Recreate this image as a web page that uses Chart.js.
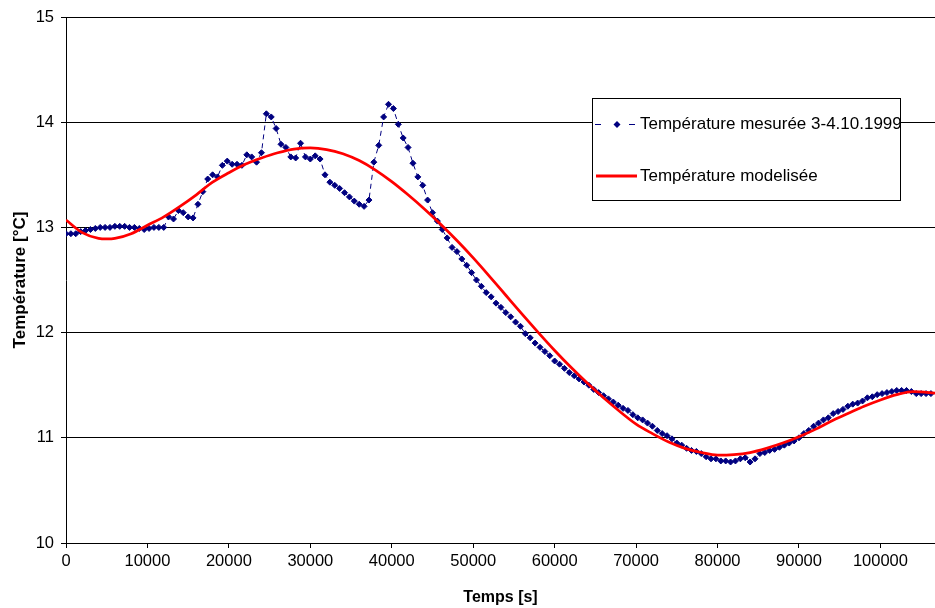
<!DOCTYPE html>
<html lang="fr">
<head>
<meta charset="UTF-8">
<title>Température mesurée et modelisée</title>
<script src="https://cdn.jsdelivr.net/npm/chart.js@4.4.0/dist/chart.umd.min.js"></script>
<style>
    body { margin: 0; background: #fff; }
    #wrap { width: 935px; height: 608px; }
</style>
</head>
<body>
<div id="wrap"><canvas id="chart" width="935" height="608"></canvas></div>
<script>
// measured series, one reading every 10 minutes
const measuredTimes = [
    0, 600, 1200, 1800, 2400, 3000, 3600, 4200, 4800, 5400,
    6000, 6600, 7200, 7800, 8400, 9000, 9600, 10200, 10800, 11400,
    12000, 12600, 13200, 13800, 14400, 15000, 15600, 16200, 16800, 17400,
    18000, 18600, 19200, 19800, 20400, 21000, 21600, 22200, 22800, 23400,
    24000, 24600, 25200, 25800, 26400, 27000, 27600, 28200, 28800, 29400,
    30000, 30600, 31200, 31800, 32400, 33000, 33600, 34200, 34800, 35400,
    36000, 36600, 37200, 37800, 38400, 39000, 39600, 40200, 40800, 41400,
    42000, 42600, 43200, 43800, 44400, 45000, 45600, 46200, 46800, 47400,
    48000, 48600, 49200, 49800, 50400, 51000, 51600, 52200, 52800, 53400,
    54000, 54600, 55200, 55800, 56400, 57000, 57600, 58200, 58800, 59400,
    60000, 60600, 61200, 61800, 62400, 63000, 63600, 64200, 64800, 65400,
    66000, 66600, 67200, 67800, 68400, 69000, 69600, 70200, 70800, 71400,
    72000, 72600, 73200, 73800, 74400, 75000, 75600, 76200, 76800, 77400,
    78000, 78600, 79200, 79800, 80400, 81000, 81600, 82200, 82800, 83400,
    84000, 84600, 85200, 85800, 86400, 87000, 87600, 88200, 88800, 89400,
    90000, 90600, 91200, 91800, 92400, 93000, 93600, 94200, 94800, 95400,
    96000, 96600, 97200, 97800, 98400, 99000, 99600, 100200, 100800, 101400,
    102000, 102600, 103200, 103800, 104400, 105000, 105600, 106200
];
const measuredTemps = [
    12.94, 12.94, 12.94, 12.96, 12.97, 12.98, 12.99, 13.00, 13.00, 13.00,
    13.01, 13.01, 13.01, 13.00, 13.00, 12.99, 12.98, 12.99, 13.00, 13.00,
    13.00, 13.10, 13.08, 13.16, 13.14, 13.10, 13.09, 13.22, 13.34, 13.46,
    13.50, 13.48, 13.59, 13.63, 13.60, 13.60, 13.59, 13.69, 13.67, 13.62,
    13.71, 14.08, 14.05, 13.94, 13.79, 13.76, 13.67, 13.66, 13.80, 13.67,
    13.65, 13.68, 13.65, 13.50, 13.43, 13.40, 13.37, 13.33, 13.29, 13.25,
    13.22, 13.20, 13.26, 13.62, 13.78, 14.05, 14.17, 14.13, 13.98, 13.85,
    13.76, 13.61, 13.48, 13.40, 13.26, 13.14, 13.06, 12.98, 12.90, 12.81,
    12.77, 12.70, 12.64, 12.57, 12.50, 12.44, 12.38, 12.34, 12.28, 12.24,
    12.19, 12.15, 12.10, 12.06, 11.99, 11.95, 11.90, 11.86, 11.82, 11.78,
    11.73, 11.70, 11.66, 11.62, 11.59, 11.56, 11.53, 11.50, 11.46, 11.43,
    11.40, 11.37, 11.34, 11.31, 11.28, 11.26, 11.22, 11.19, 11.17, 11.14,
    11.11, 11.07, 11.04, 11.02, 10.99, 10.95, 10.93, 10.90, 10.88, 10.87,
    10.85, 10.82, 10.80, 10.80, 10.78, 10.78, 10.77, 10.78, 10.80, 10.81,
    10.77, 10.80, 10.85, 10.86, 10.88, 10.89, 10.91, 10.93, 10.95, 10.97,
    11.00, 11.04, 11.07, 11.11, 11.14, 11.17, 11.19, 11.23, 11.25, 11.27,
    11.30, 11.32, 11.33, 11.35, 11.38, 11.39, 11.41, 11.42, 11.43, 11.44,
    11.45, 11.45, 11.45, 11.44, 11.42, 11.42, 11.42, 11.42
];

// model curve
const modelTimes = [
    0, 2000, 4000, 5000, 6000, 8000, 10000, 12000, 14000, 16000,
    18000, 20000, 22000, 24000, 26000, 28000, 30000, 32000, 34000, 36000,
    38000, 40000, 42000, 44000, 46000, 48000, 50000, 52000, 54000, 56000,
    58000, 60000, 62000, 64000, 66000, 68000, 70000, 72000, 74000, 76000,
    78000, 80000, 82000, 84000, 86000, 88000, 90000, 92000, 94000, 96000,
    98000, 100000, 102000, 104000, 106000, 108000
];
const modelTemps = [
    13.07, 12.95, 12.895, 12.89, 12.895, 12.94, 13.02, 13.10, 13.20, 13.31,
    13.43, 13.52, 13.60, 13.66, 13.71, 13.745, 13.755, 13.74, 13.70, 13.635,
    13.545, 13.435, 13.31, 13.175, 13.03, 12.875, 12.71, 12.535, 12.355, 12.175,
    12.00, 11.83, 11.67, 11.52, 11.38, 11.25, 11.13, 11.04, 10.96, 10.90,
    10.86, 10.835, 10.84, 10.86, 10.90, 10.95, 11.01, 11.08, 11.16, 11.23,
    11.30, 11.36, 11.41, 11.44, 11.43, 11.41
];

const xTicks = [0, 10000, 20000, 30000, 40000, 50000, 60000, 70000, 80000, 90000, 100000];
const yTicks = [10, 11, 12, 13, 14, 15];
const seriesNames = ['Température mesurée 3-4.10.1999', 'Température modelisée'];

const FONT = '"Liberation Sans", Arial, sans-serif';
const NAVY = '#000080';
const RED = '#ff0000';

// legend in a white framed box, drawn over the grid
const legendBox = {
    id: 'legendBox',
    afterDraw(chart) {
        const ctx = chart.ctx;
        ctx.save();
        ctx.fillStyle = '#fff';
        ctx.fillRect(592.5, 98.5, 308, 102);
        ctx.strokeStyle = '#000';
        ctx.lineWidth = 1;
        ctx.strokeRect(592.5, 98.5, 308, 102);

        // measured: dashes and a diamond
        ctx.strokeStyle = NAVY;
        ctx.setLineDash([6, 28]);
        ctx.beginPath();
        ctx.moveTo(595, 124.5);
        ctx.lineTo(636, 124.5);
        ctx.stroke();
        ctx.setLineDash([]);
        ctx.fillStyle = NAVY;
        ctx.beginPath();
        ctx.moveTo(617, 121);
        ctx.lineTo(620.5, 124.5);
        ctx.lineTo(617, 128);
        ctx.lineTo(613.5, 124.5);
        ctx.closePath();
        ctx.fill();

        // model: solid red
        ctx.strokeStyle = RED;
        ctx.lineWidth = 3;
        ctx.beginPath();
        ctx.moveTo(596, 176);
        ctx.lineTo(637, 176);
        ctx.stroke();

        ctx.fillStyle = '#000';
        ctx.font = '17px ' + FONT;
        ctx.textBaseline = 'middle';
        ctx.fillText(seriesNames[0], 640, 124);
        ctx.fillText(seriesNames[1], 640, 176);
        ctx.restore();
    }
};

new Chart(document.getElementById('chart'), {
    type: 'line',
    data: {
        datasets: [
            {
                label: seriesNames[1],
                data: modelTimes.map((t, i) => ({ x: t, y: modelTemps[i] })),
                borderColor: RED,
                borderWidth: 2.75,
                pointRadius: 0,
                cubicInterpolationMode: 'monotone',
                fill: false,
                order: 0
            },
            {
                label: seriesNames[0],
                data: measuredTimes.map((t, i) => ({ x: t, y: measuredTemps[i] })),
                borderColor: NAVY,
                borderWidth: 1,
                borderDash: [5, 4],
                tension: 0,
                pointStyle: 'rectRot',
                pointRadius: 3,
                pointBackgroundColor: NAVY,
                pointBorderColor: NAVY,
                pointBorderWidth: 1,
                fill: false,
                order: 1
            }
        ]
    },
    options: {
        responsive: false,
        animation: false,
        layout: { autoPadding: false, padding: { top: 17, right: 0, bottom: 0, left: 0 } },
        plugins: {
            legend: { display: false },
            tooltip: { enabled: false }
        },
        scales: {
            x: {
                type: 'linear',
                min: 0,
                max: 106700,
                afterBuildTicks: s => { s.ticks = xTicks.map(v => ({ value: v })); },
                afterFit: s => { s.height = 65; },
                grid: { drawOnChartArea: false, tickLength: 5, color: '#000' },
                border: { color: '#000', width: 1 },
                ticks: {
                    color: '#000',
                    font: { family: FONT, size: 16.5 },
                    padding: 4,
                    maxRotation: 0,
                    autoSkip: false,
                    callback: v => String(v)
                },
                title: {
                    display: true,
                    text: 'Temps [s]',
                    color: '#000',
                    font: { family: FONT, size: 16, weight: 'bold' },
                    padding: { top: 0, bottom: 1 }
                }
            },
            y: {
                min: 10,
                max: 15,
                afterBuildTicks: s => { s.ticks = yTicks.map(v => ({ value: v })); },
                afterFit: s => { s.width = 66; },
                grid: { color: '#000', tickLength: 5 },
                border: { color: '#000', width: 1 },
                ticks: {
                    color: '#000',
                    font: { family: FONT, size: 16.5 },
                    padding: 7,
                    callback: v => String(v)
                },
                title: {
                    display: true,
                    text: 'Température [°C]',
                    color: '#000',
                    font: { family: FONT, size: 17, weight: 'bold' },
                    padding: { top: 10, bottom: 0 }
                }
            }
        }
    },
    plugins: [legendBox]
});
</script>
</body>
</html>
